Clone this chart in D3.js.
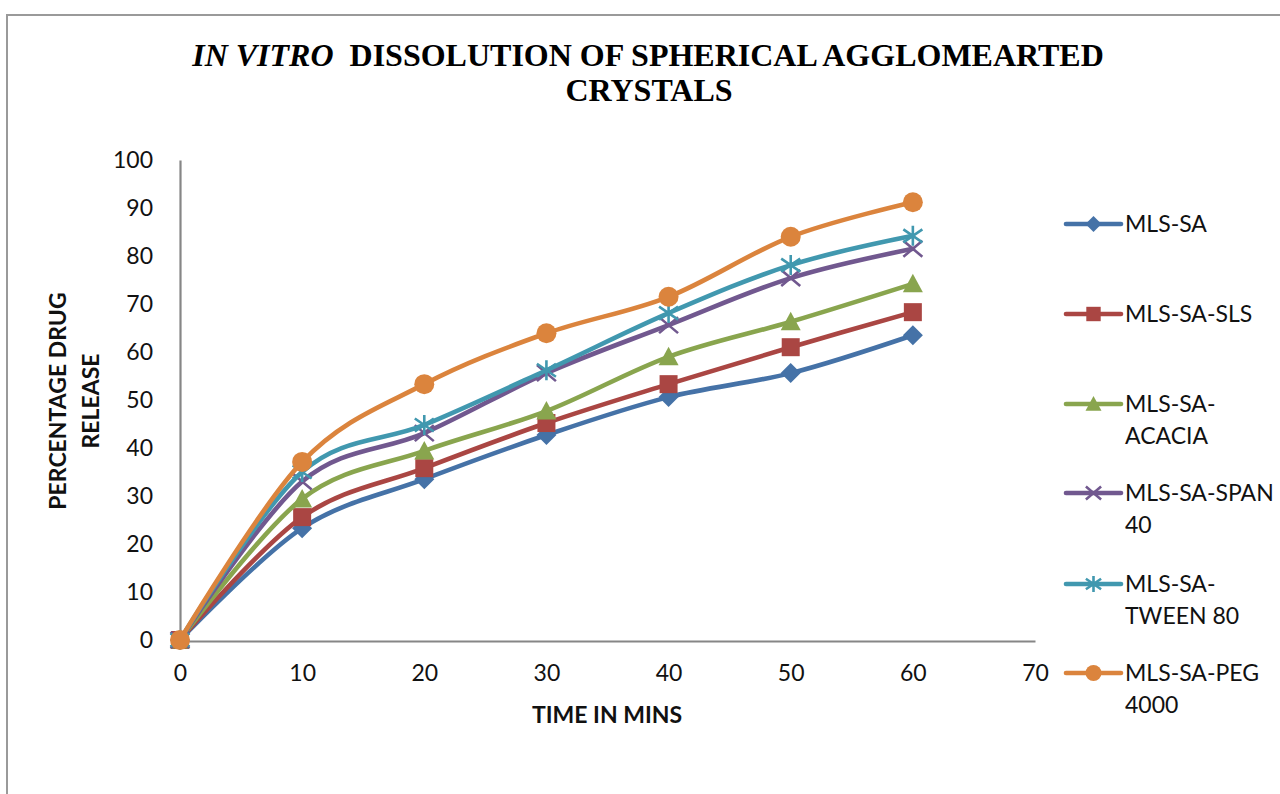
<!DOCTYPE html>
<html>
<head>
<meta charset="utf-8">
<script src="https://cdn.jsdelivr.net/npm/d3@7/dist/d3.min.js"></script>
<style>
  html, body { margin: 0; padding: 0; background: #fff; }
  svg { display: block; }
</style>
</head>
<body>
<svg id="chart" width="1280" height="794"></svg>
<script>
// ---- data ----
const timeMins = [0, 10, 20, 30, 40, 50, 60];
const seriesNames = ["MLS-SA", "MLS-SA-SLS", "MLS-SA-ACACIA", "MLS-SA-SPAN 40", "MLS-SA-TWEEN 80", "MLS-SA-PEG 4000"];
const legendLines = [["MLS-SA"], ["MLS-SA-SLS"], ["MLS-SA-", "ACACIA"], ["MLS-SA-SPAN", "40"], ["MLS-SA-", "TWEEN 80"], ["MLS-SA-PEG", "4000"]];
const mlsSA     = [0, 23.3, 33.5, 42.7, 50.6, 55.6, 63.5];
const mlsSAsls  = [0, 25.6, 35.8, 45.2, 53.3, 61.0, 68.3];
const mlsSAacacia = [0, 29.4, 39.4, 47.7, 59.0, 66.3, 74.2];
const mlsSAspan = [0, 33.0, 43.1, 55.6, 65.6, 75.4, 81.5];
const mlsSAtween = [0, 35.0, 44.8, 56.2, 68.1, 78.1, 84.2];
const mlsSApeg  = [0, 37.1, 53.3, 63.9, 71.5, 84.0, 91.2];
const xTicks = [0, 10, 20, 30, 40, 50, 60, 70];
const yTicks = [0, 10, 20, 30, 40, 50, 60, 70, 80, 90, 100];

const allValues = [mlsSA, mlsSAsls, mlsSAacacia, mlsSAspan, mlsSAtween, mlsSApeg];
const colors = ["#4572A7", "#AA4643", "#89A54E", "#71588F", "#4198AF", "#DB843D"];
const markers = ["diamond", "square", "triangle", "x", "star", "circle"];

const svg = d3.select("#chart");
svg.append("rect").attr("width", 1280).attr("height", 794).attr("fill", "#fff");

// outer frame (extends beyond the picture)
svg.append("rect").attr("x", 7).attr("y", 15).attr("width", 1300).attr("height", 820)
  .attr("fill", "none").attr("stroke", "#9a9a9a").attr("stroke-width", 2);

const x = d3.scaleLinear().domain([0, 70]).range([180, 1035]);
const y = d3.scaleLinear().domain([0, 100]).range([640, 160]);

// title
const title = svg.append("text").attr("x", 648).attr("y", 66)
  .attr("text-anchor", "middle")
  .attr("font-family", "'Liberation Serif', 'Times New Roman', serif")
  .attr("font-size", 32).attr("font-weight", "bold").attr("fill", "#000");
title.append("tspan").attr("font-style", "italic").text("IN VITRO");
title.append("tspan").text("\u00a0 DISSOLUTION OF SPHERICAL AGGLOMEARTED");
svg.append("text").attr("x", 649).attr("y", 101).attr("text-anchor", "middle")
  .attr("font-family", "'Liberation Serif', 'Times New Roman', serif")
  .attr("font-size", 32).attr("font-weight", "bold").attr("fill", "#000")
  .text("CRYSTALS");

// axes
const font = "Lato, 'Open Sans', sans-serif";
const yAxis = svg.append("g").attr("transform", "translate(180,0)")
  .call(d3.axisLeft(y).tickValues(yTicks).tickSize(0).tickPadding(27).tickFormat(d3.format("d")));
const xAxis = svg.append("g").attr("transform", "translate(0,641)")
  .call(d3.axisBottom(x).tickValues(xTicks).tickSize(0).tickPadding(24).tickFormat(d3.format("d")));
[xAxis, yAxis].forEach(g => {
  g.select(".domain").attr("stroke", "#868686").attr("stroke-width", 2.2);
  g.selectAll("text").attr("font-family", font).attr("font-size", 23).attr("fill", "#111");
});

// axis titles
svg.append("text").attr("x", 607).attr("y", 723).attr("text-anchor", "middle")
  .attr("font-family", font).attr("font-weight", "bold").attr("font-size", 23)
  .attr("fill", "#111").text("TIME IN MINS");
const yt = svg.append("text").attr("transform", "translate(0,401) rotate(-90)")
  .attr("text-anchor", "middle").attr("font-family", font).attr("font-weight", "bold")
  .attr("font-size", 23).attr("fill", "#111");
yt.append("tspan").attr("x", 0).attr("y", 66).text("PERCENTAGE DRUG");
yt.append("tspan").attr("x", 0).attr("y", 99).text("RELEASE");

// marker drawing
function drawMarker(g, type, cx, cy, color, s) {
  const h = s / 2;
  if (type === "diamond") {
    g.append("path").attr("d", `M${cx},${cy - h}L${cx + h},${cy}L${cx},${cy + h}L${cx - h},${cy}Z`).attr("fill", color);
  } else if (type === "square") {
    const q = h * 0.9;
    g.append("rect").attr("x", cx - q).attr("y", cy - q).attr("width", 2 * q).attr("height", 2 * q).attr("fill", color);
  } else if (type === "triangle") {
    g.append("path").attr("d", `M${cx},${cy - h}L${cx + h},${cy + h * 0.85}L${cx - h},${cy + h * 0.85}Z`).attr("fill", color);
  } else if (type === "circle") {
    g.append("circle").attr("cx", cx).attr("cy", cy).attr("r", h).attr("fill", color);
  } else if (type === "x") {
    const a = h * 0.95, b = h * 0.8;
    g.append("path").attr("d", `M${cx - a},${cy - b}L${cx + a},${cy + b}M${cx - a},${cy + b}L${cx + a},${cy - b}`)
      .attr("stroke", color).attr("stroke-width", 2.6).attr("fill", "none");
  } else if (type === "star") {
    const a = h * 0.95, b = h * 0.65;
    g.append("path").attr("d", `M${cx - a},${cy - b}L${cx + a},${cy + b}M${cx - a},${cy + b}L${cx + a},${cy - b}M${cx},${cy - h}L${cx},${cy + h}`)
      .attr("stroke", color).attr("stroke-width", 2.6).attr("fill", "none");
  }
}

const line = d3.line().x(d => x(d[0])).y(d => y(d[1])).curve(d3.curveCatmullRom.alpha(0));

allValues.forEach((vals, i) => {
  const g = svg.append("g");
  const pts = timeMins.map((t, k) => [t, vals[k]]);
  g.append("path").datum(pts).attr("d", line).attr("fill", "none")
    .attr("stroke", colors[i]).attr("stroke-width", 4.6)
    .attr("stroke-linejoin", "round").attr("stroke-linecap", "round");
  pts.forEach(p => drawMarker(g, markers[i], x(p[0]), y(p[1]), colors[i], 20));
});

// legend
const legendY = [224, 314, 404, 493, 584, 673];
legendLines.forEach((lines, i) => {
  const g = svg.append("g");
  const ly = legendY[i];
  g.append("line").attr("x1", 1066).attr("x2", 1121).attr("y1", ly).attr("y2", ly)
    .attr("stroke", colors[i]).attr("stroke-width", 4.6).attr("stroke-linecap", "round");
  drawMarker(g, markers[i], 1093.5, ly, colors[i], 16);
  const t = g.append("text").attr("font-family", font).attr("font-size", 23).attr("fill", "#111");
  lines.forEach((s, k) => {
    t.append("tspan").attr("x", 1125).attr("y", ly + 8 + k * 32).text(s);
  });
});
</script>
</body>
</html>
